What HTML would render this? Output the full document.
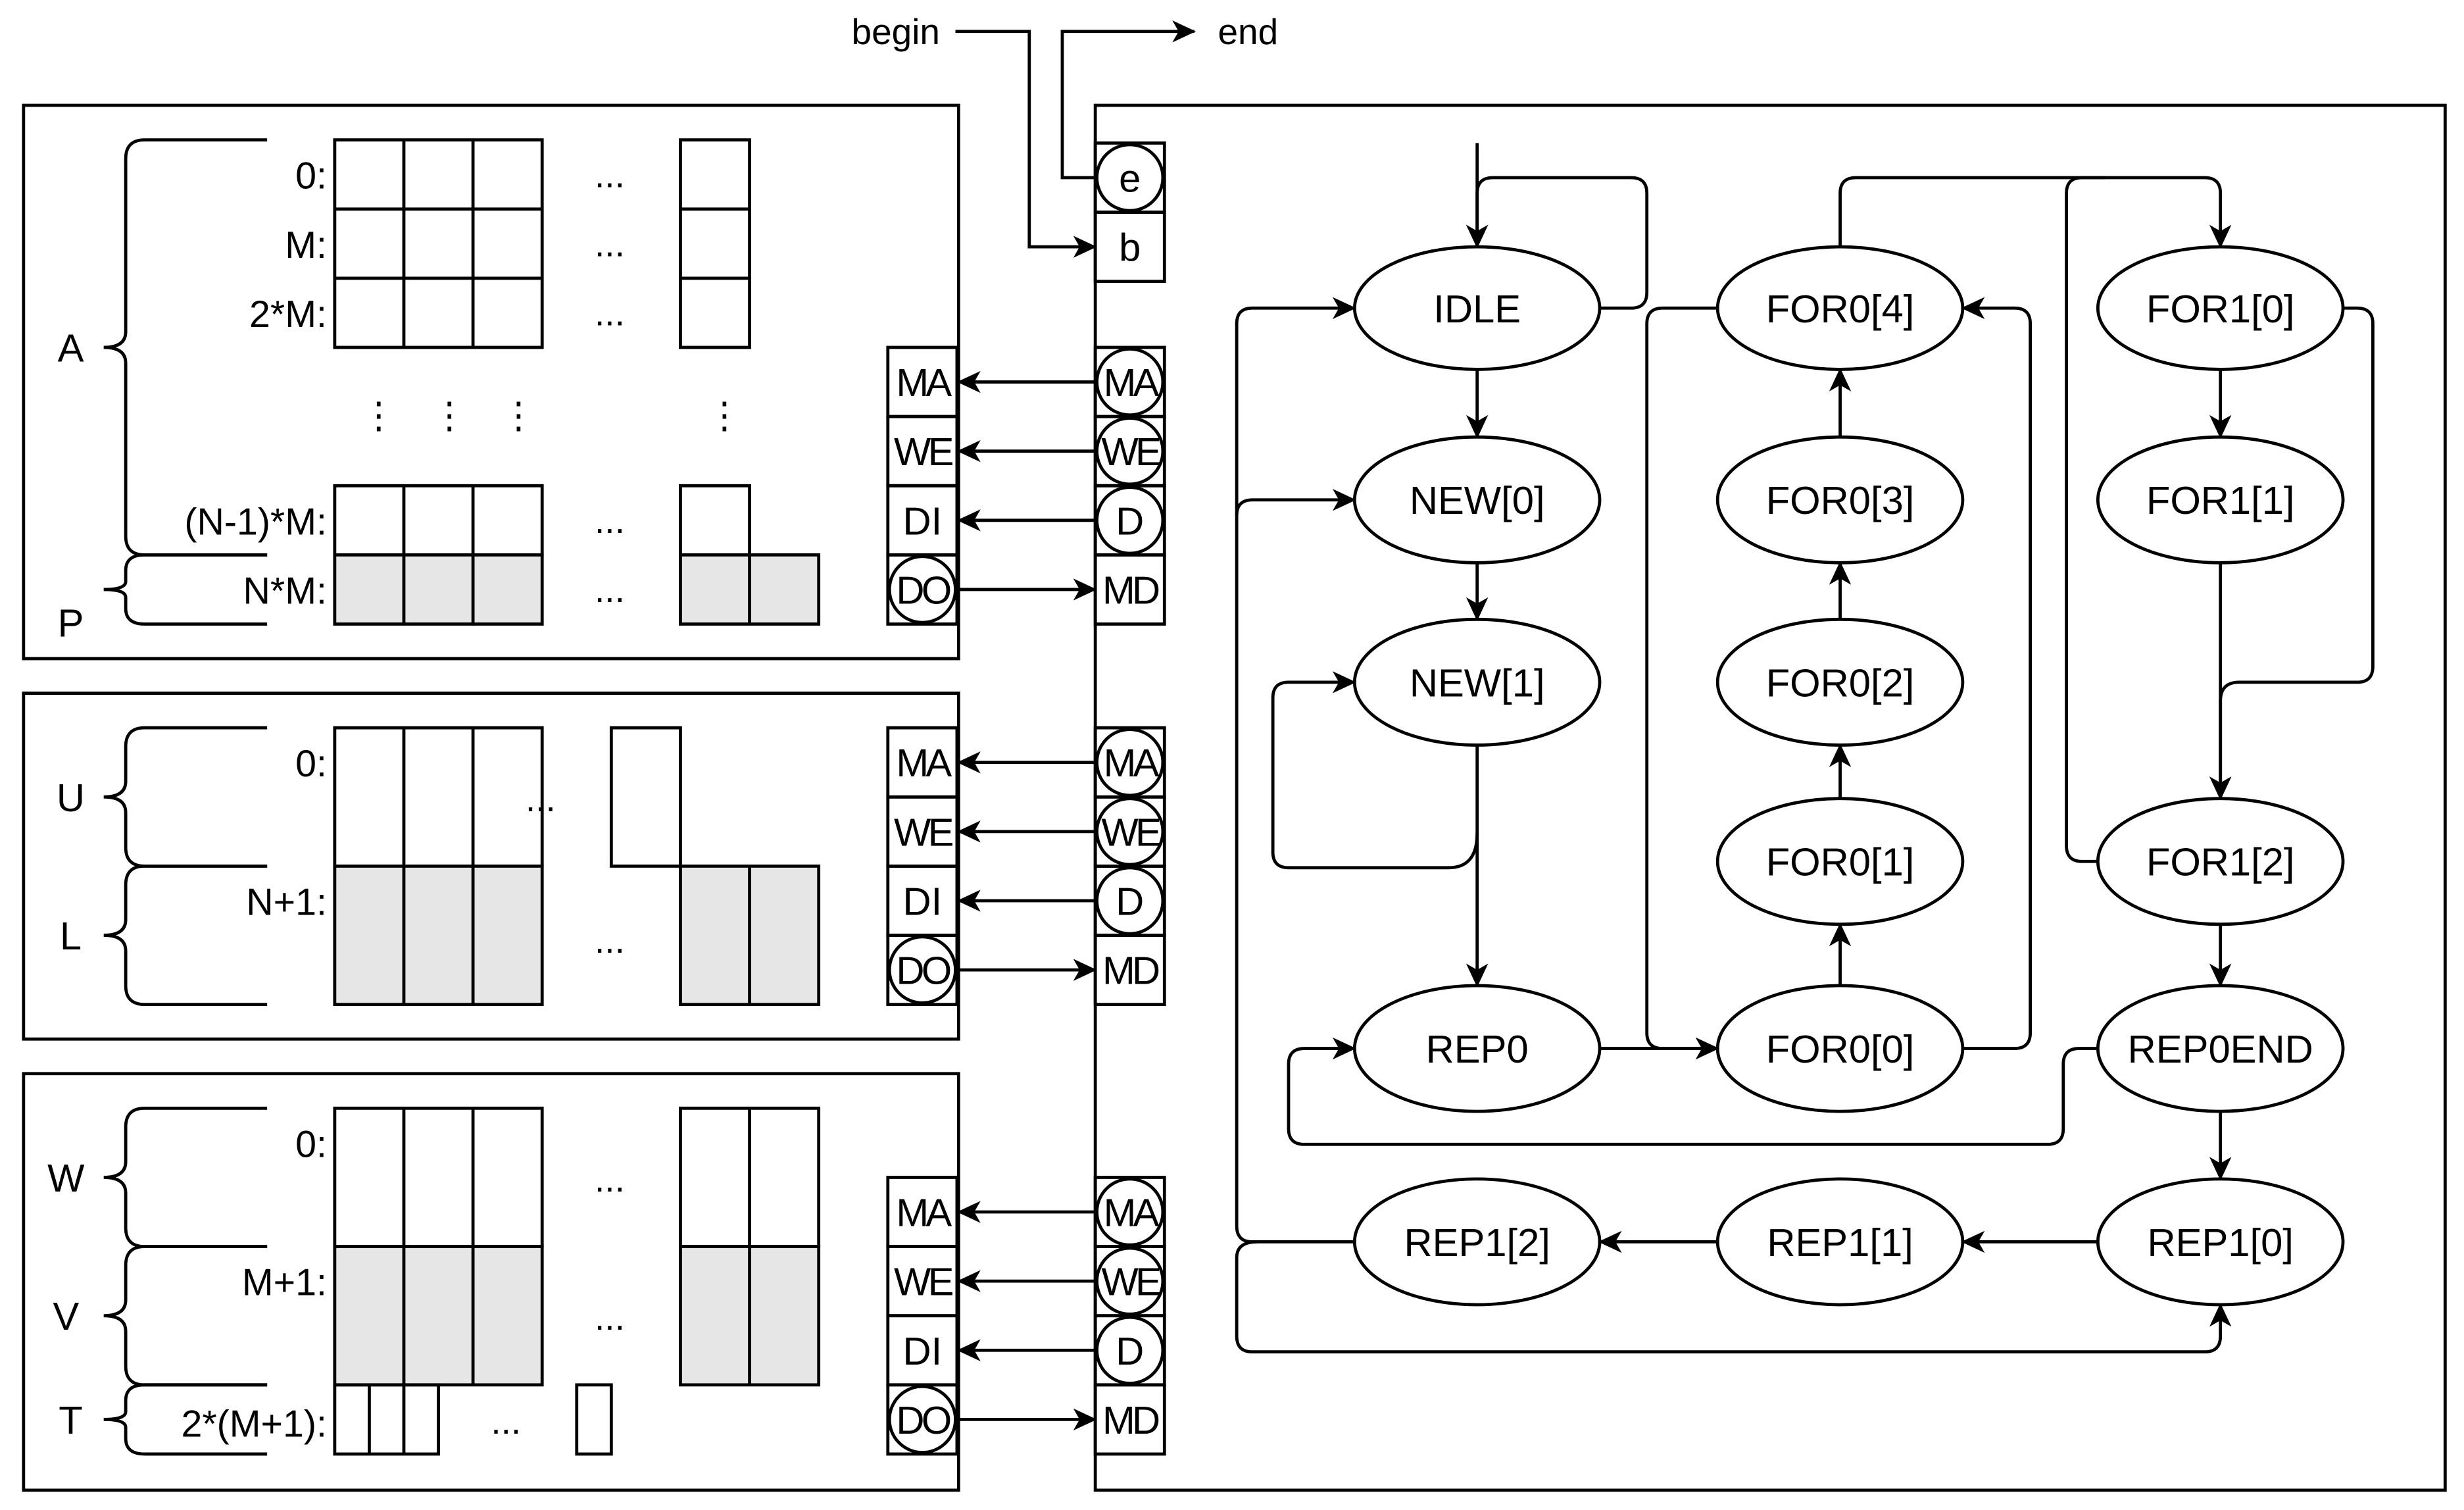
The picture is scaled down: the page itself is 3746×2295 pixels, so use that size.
<!DOCTYPE html>
<html><head><meta charset="utf-8"><style>html,body{margin:0;padding:0;background:#fff}svg{display:block}</style></head><body>
<svg xmlns="http://www.w3.org/2000/svg" width="3746" height="2295" viewBox="0 0 1568 960.6" preserveAspectRatio="none">
<defs>
<marker id="a" markerUnits="userSpaceOnUse" markerWidth="16" markerHeight="14" refX="14" refY="7" orient="auto">
<path d="M0,0 L15,7 L0,14 L4,7 z" fill="#000"/></marker>
</defs>
<g fill="none" stroke="#000" stroke-width="2" font-family="Liberation Sans, sans-serif">
<rect x="15" y="67" width="595" height="352"/>
<rect x="15" y="441" width="595" height="220"/>
<rect x="15" y="683" width="595" height="265"/>
<rect x="697" y="67" width="859" height="881"/>

<path d="M608,20 H655 V157 H697" marker-end="url(#a)"/>
<path d="M697,113 H676 V20 H760" marker-end="url(#a)"/>

<rect x="697" y="91" width="44" height="44"/><ellipse cx="719" cy="113" rx="21" ry="21"/>
<rect x="697" y="135" width="44" height="44"/>
<g id="rc">
<rect x="697" y="221" width="44" height="44"/><ellipse cx="719" cy="243" rx="21" ry="21"/>
<rect x="697" y="265" width="44" height="44"/><ellipse cx="719" cy="287" rx="21" ry="21"/>
<rect x="697" y="309" width="44" height="44"/><ellipse cx="719" cy="331" rx="21" ry="21"/>
<rect x="697" y="353" width="44" height="44"/>
<rect x="565" y="221" width="44" height="44"/>
<rect x="565" y="265" width="44" height="44"/>
<rect x="565" y="309" width="44" height="44"/>
<rect x="565" y="353" width="44" height="44"/><ellipse cx="587" cy="375" rx="21" ry="21"/>
<path d="M697,243 H610" marker-end="url(#a)"/>
<path d="M697,287 H610" marker-end="url(#a)"/>
<path d="M697,331 H610" marker-end="url(#a)"/>
<path d="M609,375 H697" marker-end="url(#a)"/>
</g>
<use href="#rc" y="242"/>
<use href="#rc" y="528"/>

<path d="M170,89 H92 Q80,89 80,101 V211 Q80,221 66,221 Q80,221 80,231 V341 Q80,353 92,353 H170"/>
<path d="M170,353 H92 Q80,353 80,363 V370 Q80,375 66,375 Q80,375 80,380 V387 Q80,397 92,397 H170"/>
<path d="M170,463 H92 Q80,463 80,475 V497 Q80,507 66,507 Q80,507 80,517 V539 Q80,551 92,551 H170"/>
<path d="M170,551 H92 Q80,551 80,563 V585 Q80,595 66,595 Q80,595 80,605 V627 Q80,639 92,639 H170"/>
<path d="M170,705 H92 Q80,705 80,717 V739 Q80,749 66,749 Q80,749 80,759 V781 Q80,793 92,793 H170"/>
<path d="M170,793 H92 Q80,793 80,805 V827 Q80,837 66,837 Q80,837 80,847 V869 Q80,881 92,881 H170"/>
<path d="M170,881 H92 Q80,881 80,891 V898 Q80,903 66,903 Q80,903 80,908 V915 Q80,925 92,925 H170"/>

<rect x="213" y="89" width="132" height="132"/>
<path d="M257,89 V221 M301,89 V221 M213,133 H345 M213,177 H345"/>
<rect x="433" y="89" width="44" height="132"/>
<path d="M433,133 H477 M433,177 H477"/>
<rect x="213" y="309" width="132" height="44"/><path d="M257,309 V353 M301,309 V353"/>
<rect x="433" y="309" width="44" height="44"/>
<rect x="213" y="353" width="132" height="44" fill="#e6e6e6"/><path d="M257,353 V397 M301,353 V397"/>
<rect x="433" y="353" width="88" height="44" fill="#e6e6e6"/><path d="M477,353 V397"/>

<rect x="213" y="463" width="132" height="88"/><path d="M257,463 V551 M301,463 V551"/>
<rect x="213" y="551" width="132" height="88" fill="#e6e6e6"/><path d="M257,551 V639 M301,551 V639"/>
<rect x="389" y="463" width="44" height="88"/>
<rect x="433" y="551" width="88" height="88" fill="#e6e6e6"/><path d="M477,551 V639"/>

<rect x="213" y="705" width="132" height="88"/><path d="M257,705 V793 M301,705 V793"/>
<rect x="213" y="793" width="132" height="88" fill="#e6e6e6"/><path d="M257,793 V881 M301,793 V881"/>
<rect x="433" y="705" width="88" height="88"/><path d="M477,705 V793"/>
<rect x="433" y="793" width="88" height="88" fill="#e6e6e6"/><path d="M477,793 V881"/>
<rect x="213" y="881" width="66" height="44"/><path d="M235,881 V925 M257,881 V925"/>
<rect x="367" y="881" width="22" height="44"/>

<ellipse cx="940" cy="196" rx="78" ry="39"/>
<ellipse cx="940" cy="318" rx="78" ry="40"/>
<ellipse cx="940" cy="434" rx="78" ry="40"/>
<ellipse cx="940" cy="667" rx="78" ry="40"/>
<ellipse cx="940" cy="790" rx="78" ry="40"/>
<ellipse cx="1171" cy="196" rx="78" ry="39"/>
<ellipse cx="1171" cy="318" rx="78" ry="40"/>
<ellipse cx="1171" cy="434" rx="78" ry="40"/>
<ellipse cx="1171" cy="548" rx="78" ry="40"/>
<ellipse cx="1171" cy="667" rx="78" ry="40"/>
<ellipse cx="1171" cy="790" rx="78" ry="40"/>
<ellipse cx="1413" cy="196" rx="78" ry="39"/>
<ellipse cx="1413" cy="318" rx="78" ry="40"/>
<ellipse cx="1413" cy="548" rx="78" ry="40"/>
<ellipse cx="1413" cy="667" rx="78" ry="40"/>
<ellipse cx="1413" cy="790" rx="78" ry="40"/>

<path d="M940,91 V157" marker-end="url(#a)"/>
<path d="M1018,196 H1038 Q1048,196 1048,186 V123 Q1048,113 1038,113 H950 Q940,113 940,123 V157" marker-end="url(#a)"/>
<path d="M940,235 V278" marker-end="url(#a)"/>
<path d="M940,358 V394" marker-end="url(#a)"/>
<path d="M940,474 V627" marker-end="url(#a)"/>
<path d="M940,530 Q940,552 922,552 H820 Q810,552 810,542 V444 Q810,434 820,434 H862" marker-end="url(#a)"/>
<path d="M862,790 H797 Q787,790 787,780 V206 Q787,196 797,196 H862" marker-end="url(#a)"/>
<path d="M787,328 Q787,318 797,318 H862" marker-end="url(#a)"/>
<path d="M800,790 Q787,790 787,800 V850 Q787,860 797,860 H1403 Q1413,860 1413,850 V830" marker-end="url(#a)"/>
<path d="M1018,667 H1093" marker-end="url(#a)"/>
<path d="M1093,196 H1058 Q1048,196 1048,206 V657 Q1048,667 1058,667 H1093" marker-end="url(#a)"/>
<path d="M1171,627 V588" marker-end="url(#a)"/>
<path d="M1171,508 V474" marker-end="url(#a)"/>
<path d="M1171,394 V358" marker-end="url(#a)"/>
<path d="M1171,278 V235" marker-end="url(#a)"/>
<path d="M1249,667 H1282 Q1292,667 1292,657 V206 Q1292,196 1282,196 H1249" marker-end="url(#a)"/>
<path d="M1171,157 V123 Q1171,113 1181,113 H1403 Q1413,113 1413,123 V157" marker-end="url(#a)"/>
<path d="M1335,548 H1325 Q1315,548 1315,538 V123 Q1315,113 1325,113 H1340"/>
<path d="M1413,235 V278" marker-end="url(#a)"/>
<path d="M1413,358 V508" marker-end="url(#a)"/>
<path d="M1491,196 H1500 Q1510,196 1510,206 V424 Q1510,434 1500,434 H1425 Q1413,434 1413,446 V508" marker-end="url(#a)"/>
<path d="M1413,588 V627" marker-end="url(#a)"/>
<path d="M1413,707 V750" marker-end="url(#a)"/>
<path d="M1335,667 H1323 Q1313,667 1313,677 V718 Q1313,728 1303,728 H830 Q820,728 820,718 V677 Q820,667 830,667 H862" marker-end="url(#a)"/>
<path d="M1335,790 H1249" marker-end="url(#a)"/>
<path d="M1093,790 H1018" marker-end="url(#a)"/>
</g>

<g font-family="Liberation Sans, sans-serif" font-size="23" fill="#000">
<text x="570" y="28" text-anchor="middle">begin</text>
<text x="775" y="28">end</text>
<g text-anchor="middle">
<g font-size="25">
<text x="719" y="122">e</text><text x="719" y="166">b</text>
<g id="lb">
<text x="719" y="252" letter-spacing="-2">MA</text><text x="719" y="296" letter-spacing="-2">WE</text><text x="719" y="340">D</text><text x="719" y="384" letter-spacing="-2">MD</text>
<text x="587" y="252" letter-spacing="-2">MA</text><text x="587" y="296" letter-spacing="-2">WE</text><text x="587" y="340">DI</text><text x="587" y="384" letter-spacing="-2">DO</text>
</g>
<use href="#lb" y="242"/><use href="#lb" y="528"/>
<text x="940" y="205">IDLE</text><text x="940" y="327">NEW[0]</text><text x="940" y="443">NEW[1]</text>
<text x="940" y="676">REP0</text><text x="940" y="799">REP1[2]</text>
<text x="1171" y="205">FOR0[4]</text><text x="1171" y="327">FOR0[3]</text><text x="1171" y="443">FOR0[2]</text>
<text x="1171" y="557">FOR0[1]</text><text x="1171" y="676">FOR0[0]</text><text x="1171" y="799">REP1[1]</text>
<text x="1413" y="205">FOR1[0]</text><text x="1413" y="327">FOR1[1]</text><text x="1413" y="557">FOR1[2]</text>
<text x="1413" y="676">REP0END</text><text x="1413" y="799">REP1[0]</text>
<text x="45" y="230">A</text><text x="45" y="405">P</text>
<text x="45" y="516">U</text><text x="45" y="604">L</text>
<text x="42" y="758">W</text><text x="42" y="846">V</text><text x="45" y="912">T</text>
</g>
<text x="388" y="119">...</text><text x="388" y="163">...</text><text x="388" y="207">...</text>
<text x="388" y="339">...</text><text x="388" y="383">...</text>
<text x="344" y="516">...</text><text x="388" y="606">...</text>
<text x="388" y="758">...</text><text x="388" y="846">...</text><text x="322" y="912">...</text>
<text x="241" y="272">⋮</text><text x="286" y="272">⋮</text><text x="330" y="272">⋮</text><text x="461" y="272">⋮</text>
</g>
<g text-anchor="end" font-size="24">
<text x="208" y="120">0:</text><text x="208" y="164">M:</text><text x="208" y="208">2*M:</text>
<text x="208" y="340">(N-1)*M:</text><text x="208" y="384">N*M:</text>
<text x="208" y="494">0:</text><text x="208" y="582">N+1:</text>
<text x="208" y="736">0:</text><text x="208" y="824">M+1:</text><text x="208" y="914">2*(M+1):</text>
</g>
</g>
</svg>
</body></html>
